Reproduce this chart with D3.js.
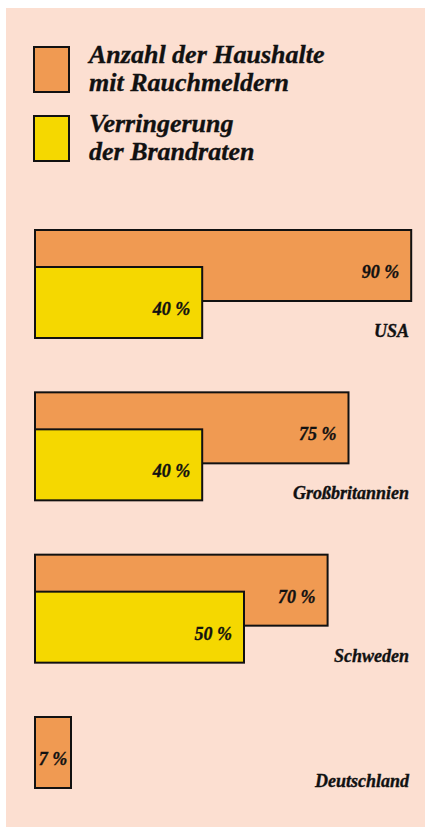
<!DOCTYPE html>
<html><head><meta charset="utf-8">
<script src="https://cdn.jsdelivr.net/npm/d3@7"></script>
<style>html,body{margin:0;padding:0;background:#fff;}svg{display:block;}</style>
</head><body>
<svg id="c" width="425" height="827"></svg>
<script>
const countries = ["USA", "Großbritannien", "Schweden", "Deutschland"];
const households = [90, 75, 70, 7];          // Anzahl der Haushalte mit Rauchmeldern (%)
const reduction = [40, 40, 50, null];        // Verringerung der Brandraten (%)
const legendLabels = [["Anzahl der Haushalte", "mit Rauchmeldern"], ["Verringerung", "der Brandraten"]];

const colors = {bg: "#FCDFD1", orange: "#F09A52", yellow: "#F5D800", stroke: "#111"};
const font = "'Liberation Serif','Times New Roman',serif";

const svg = d3.select("#c");
svg.append("rect").attr("x", 6).attr("y", 8).attr("width", 419).attr("height", 819).attr("fill", colors.bg);

function txt(sel, size) {
  return sel.attr("font-family", font).attr("font-weight", "bold").attr("font-style", "italic")
    .attr("font-size", size).attr("fill", "#111").attr("stroke", "#111").attr("stroke-width", 0.35);
}

// legend
const legendColors = [colors.orange, colors.yellow];
legendLabels.forEach((lines, i) => {
  const g = svg.append("g").attr("transform", `translate(0,${46 + i * 69})`);
  g.append("rect").attr("x", 34).attr("y", 1).attr("width", 35).attr("height", 45)
    .attr("fill", legendColors[i]).attr("stroke", colors.stroke).attr("stroke-width", 2);
  lines.forEach((t, j) => {
    txt(g.append("text").attr("x", 89).attr("y", 17 + j * 28), 26).text(t);
  });
});

// scales
const x = d3.scaleLinear().domain([0, 100]).range([35, 35 + 418]);
const y = d3.scalePoint().domain(countries).range([230, 717]);
const barH = 71, yOff = 37, minW = 36;
const w = v => Math.max(x(v) - x(0), minW);

countries.forEach((c, i) => {
  const g = svg.append("g");
  const top = y(c);
  const ho = households[i], re = reduction[i];
  g.append("rect").attr("x", x(0)).attr("y", top).attr("width", w(ho)).attr("height", barH)
    .attr("fill", colors.orange).attr("stroke", colors.stroke).attr("stroke-width", 2);
  const narrow = (x(ho) - x(0)) < minW;
  txt(g.append("text")
    .attr("x", narrow ? x(0) + w(ho) / 2 : x(0) + w(ho) - 12)
    .attr("y", top + 48)
    .attr("text-anchor", narrow ? "middle" : "end"), 18).text(ho + " %");
  let bottom = top + barH;
  if (re != null) {
    g.append("rect").attr("x", x(0)).attr("y", top + yOff).attr("width", w(re)).attr("height", barH)
      .attr("fill", colors.yellow).attr("stroke", colors.stroke).attr("stroke-width", 2);
    txt(g.append("text").attr("x", x(0) + w(re) - 12).attr("y", top + yOff + 48)
      .attr("text-anchor", "end"), 18).text(re + " %");
    bottom = top + yOff + barH;
  }
  txt(g.append("text").attr("x", 409).attr("y", bottom - 1).attr("text-anchor", "end"), 18).text(c);
});
</script>
</body></html>
